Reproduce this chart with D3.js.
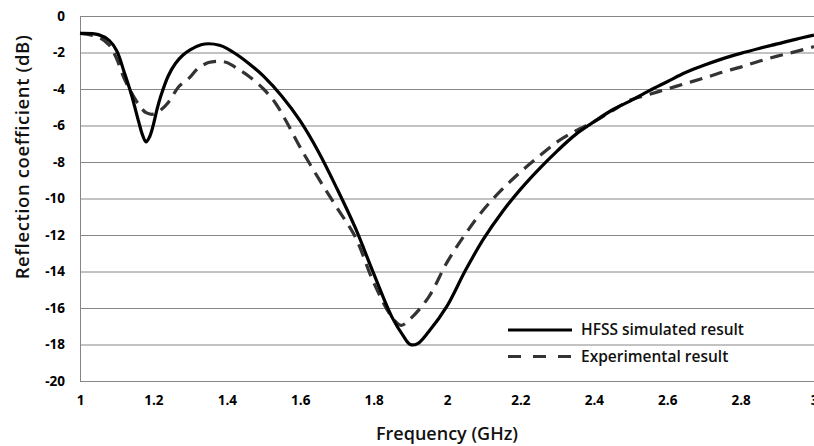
<!DOCTYPE html>
<html>
<head>
<meta charset="utf-8">
<script src="https://cdn.jsdelivr.net/npm/d3@7"></script>
<style>
	body { margin: 0; background: #fff; }
	text { font-family: "Open Sans", sans-serif; }
</style>
</head>
<body>
<div id="chart"></div>
<script>
const xTicks = [1, 1.2, 1.4, 1.6, 1.8, 2, 2.2, 2.4, 2.6, 2.8, 3],
	yTicks = [0, -2, -4, -6, -8, -10, -12, -14, -16, -18, -20];

// HFSS simulated result
const simFreq = [1.00, 1.05, 1.08, 1.10, 1.12, 1.14, 1.16, 1.17, 1.18, 1.19, 1.20, 1.21, 1.22, 1.24, 1.26, 1.28, 1.30, 1.33, 1.35, 1.38, 1.40, 1.43, 1.46, 1.50, 1.55, 1.60, 1.65, 1.70, 1.75, 1.80, 1.85, 1.88, 1.90, 1.92, 1.95, 2.00, 2.05, 2.10, 2.15, 2.20, 2.25, 2.30, 2.35, 2.40, 2.45, 2.50, 2.55, 2.60, 2.65, 2.70, 2.75, 2.80, 2.85, 2.90, 2.95, 3.00],
	simDb = [-0.95, -1.02, -1.35, -1.9, -3.05, -4.3, -5.8, -6.5, -6.9, -6.6, -5.95, -5.1, -4.4, -3.3, -2.6, -2.15, -1.85, -1.58, -1.52, -1.6, -1.77, -2.15, -2.6, -3.3, -4.4, -5.75, -7.45, -9.45, -11.6, -14.1, -16.5, -17.5, -18.0, -17.95, -17.3, -15.9, -13.95, -12.2, -10.75, -9.5, -8.4, -7.4, -6.5, -5.8, -5.15, -4.65, -4.1, -3.6, -3.1, -2.7, -2.35, -2.05, -1.78, -1.53, -1.28, -1.05];

// Experimental result
const expFreq = [1.00, 1.05, 1.08, 1.10, 1.12, 1.14, 1.16, 1.18, 1.20, 1.22, 1.24, 1.27, 1.30, 1.32, 1.35, 1.38, 1.40, 1.43, 1.46, 1.50, 1.53, 1.56, 1.60, 1.65, 1.70, 1.75, 1.80, 1.85, 1.875, 1.90, 1.95, 2.00, 2.05, 2.10, 2.15, 2.20, 2.25, 2.30, 2.35, 2.40, 2.45, 2.50, 2.55, 2.60, 2.65, 2.70, 2.75, 2.80, 2.85, 2.90, 2.95, 3.00],
	expDb = [-0.95, -1.15, -1.6, -2.35, -3.4, -4.2, -4.85, -5.3, -5.38, -5.15, -4.75, -3.85, -3.35, -2.9, -2.55, -2.48, -2.55, -2.9, -3.3, -4.0, -4.7, -5.7, -7.2, -8.9, -10.5, -12.1, -14.6, -16.5, -16.95, -16.6, -15.4, -13.5, -11.95, -10.6, -9.5, -8.55, -7.7, -6.9, -6.3, -5.8, -5.2, -4.6, -4.3, -4.0, -3.7, -3.4, -3.08, -2.8, -2.48, -2.2, -1.95, -1.68];

const seriesNames = ['HFSS simulated result', 'Experimental result'];

const margin = {top: 16, right: 0, bottom: 65, left: 80},
	fullW = 814, fullH = 446,
	width = fullW - margin.left - margin.right,
	height = fullH - margin.top - margin.bottom;

const svg = d3.select('#chart')
	.append('svg')
	.attr('width', fullW)
	.attr('height', fullH);

const g = svg.append('g')
	.attr('transform', `translate(${margin.left},${margin.top})`);

const x = d3.scaleLinear().domain([1, 3]).range([0, width]);
const y = d3.scaleLinear().domain([-20, 0]).range([height, 0]);

// gridlines
g.append('g')
	.call(d3.axisLeft(y).tickValues(yTicks).tickSize(-width).tickFormat(''))
	.call(a => a.select('.domain').remove())
	.selectAll('line')
		.attr('stroke', '#868686')
		.attr('stroke-width', 1);

// y axis
const yAxis = g.append('g')
	.call(d3.axisLeft(y).tickValues(yTicks).tickSize(0).tickPadding(15).tickFormat(d => String(d)));
yAxis.select('.domain').attr('stroke', '#868686');
yAxis.selectAll('text')
	.attr('font-family', '"Open Sans", sans-serif')
	.attr('font-size', 13.5)
	.attr('font-weight', 700)
	.attr('fill', '#000');

// x axis
const xAxis = g.append('g')
	.attr('transform', `translate(0,${height})`)
	.call(d3.axisBottom(x).tickValues(xTicks).tickSize(0).tickPadding(14).tickFormat(d => String(d)));
xAxis.select('.domain').attr('stroke', '#868686');
xAxis.selectAll('text')
	.attr('font-family', '"Open Sans", sans-serif')
	.attr('font-size', 13.5)
	.attr('font-weight', 700)
	.attr('fill', '#000');

const line = d3.line()
	.x(d => x(d[0]))
	.y(d => y(d[1]))
	.curve(d3.curveCatmullRom.alpha(0.5));

const simData = simFreq.map((f, i) => [f, simDb[i]]);
const expData = expFreq.map((f, i) => [f, expDb[i]]);

g.append('path')
	.datum(expData)
	.attr('d', line)
	.attr('fill', 'none')
	.attr('stroke', '#333')
	.attr('stroke-width', 3.2)
	.attr('stroke-dasharray', '13,8');

g.append('path')
	.datum(simData)
	.attr('d', line)
	.attr('fill', 'none')
	.attr('stroke', '#000')
	.attr('stroke-width', 3.2);

// axis titles
svg.append('text')
	.attr('transform', 'translate(29,157) rotate(-90)')
	.attr('text-anchor', 'middle')
	.attr('font-size', 18.5)
	.attr('font-weight', 600)
	.attr('letter-spacing', 0.6)
	.attr('fill', '#111')
	.text('Reflection coefficient (dB)');

svg.append('text')
	.attr('x', 447)
	.attr('y', 440)
	.attr('text-anchor', 'middle')
	.attr('font-size', 18)
	.attr('font-weight', 600)
	.attr('fill', '#111')
	.text('Frequency (GHz)');

// legend
const legend = svg.append('g').attr('transform', 'translate(508,330)');
seriesNames.forEach((name, i) => {
	const row = legend.append('g').attr('transform', `translate(0,${i * 26.5})`);
	row.append('line')
		.attr('x1', 0).attr('x2', 64)
		.attr('stroke', i === 0 ? '#000' : '#333')
		.attr('stroke-width', 3.2)
		.attr('stroke-dasharray', i === 0 ? null : '13,12');
	row.append('text')
		.attr('x', 73)
		.attr('dy', '0.35em')
		.attr('font-size', 15.5)
		.attr('font-weight', 600)
		.attr('fill', '#111')
		.text(name);
});
</script>
</body>
</html>
